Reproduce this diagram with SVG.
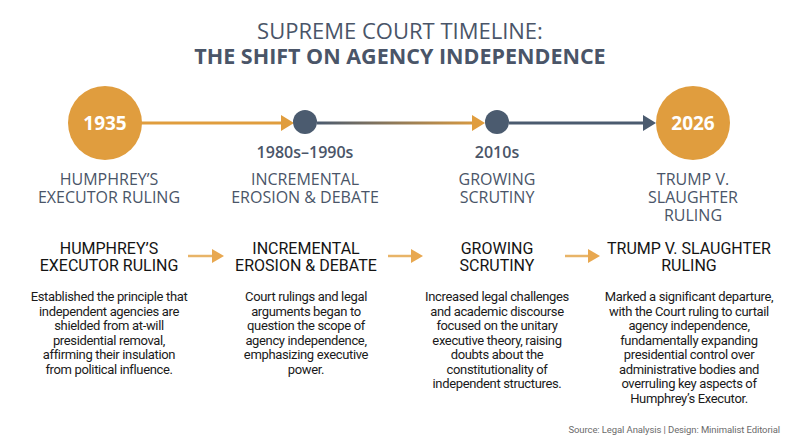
<svg xmlns="http://www.w3.org/2000/svg" width="800" height="447" viewBox="0 0 800 447">
<defs>
<style>
.t1{font-family:"Open Sans","Noto Sans",sans-serif;font-size:22px;fill:#4a5568;text-anchor:middle}
.t2{font-family:"Open Sans","Noto Sans",sans-serif;font-size:21.5px;font-weight:700;fill:#4a5568;text-anchor:middle}
.yr{font-family:"Open Sans","Noto Sans",sans-serif;font-size:19px;font-weight:700;fill:#fff;text-anchor:middle}
.era{font-family:"Open Sans","Noto Sans",sans-serif;font-size:16px;font-weight:600;fill:#4a5568;text-anchor:middle}
.cat{font-family:"Open Sans","Noto Sans",sans-serif;font-size:16px;font-weight:500;fill:#4a5568;text-anchor:middle}
.hd{font-family:Roboto,"Liberation Sans",sans-serif;font-size:16px;fill:#141414;text-anchor:middle}
.bd{font-family:Roboto,"Liberation Sans",sans-serif;font-size:13px;letter-spacing:-0.35px;fill:#1a1a1a;text-anchor:middle}
.src{font-family:Roboto,"Liberation Sans",sans-serif;font-size:9.5px;letter-spacing:-0.1px;fill:#6b6b6b;text-anchor:end}
.orange{fill:#e09d3e}
.slate{fill:#4b5b6f}
</style>
<linearGradient id="g1" x1="317" y1="0" x2="485" y2="0" gradientUnits="userSpaceOnUse">
<stop offset="0" stop-color="#4b5b6f"/>
<stop offset="1" stop-color="#e09d3e"/>
</linearGradient>
</defs>
<rect width="800" height="447" fill="#ffffff"/>
<text class="t1" x="400" y="39">SUPREME COURT TIMELINE:</text>
<text class="t2" x="400" y="64">THE SHIFT ON AGENCY INDEPENDENCE</text>

<g id="connectors">
<line x1="141" y1="123" x2="284" y2="123" stroke="#e09d3e" stroke-width="3"/>
<polygon points="281,115 294,123 281,131" fill="#e09d3e"/>
<line x1="317" y1="123" x2="474" y2="123" stroke="url(#g1)" stroke-width="3"/>
<polygon points="472,115 485,123 472,131" fill="#e09d3e"/>
<line x1="509" y1="123" x2="645" y2="123" stroke="#4b5b6f" stroke-width="3"/>
<polygon points="643,115 656,123 643,131" fill="#4b5b6f"/>
<line x1="188" y1="256" x2="214" y2="256" stroke="#e8b468" stroke-width="2.5"/>
<polygon points="212,249 224,256 212,263" fill="#e8a850"/>
<line x1="388" y1="256" x2="412" y2="256" stroke="#e8b468" stroke-width="2.5"/>
<polygon points="411,249 423,256 411,263" fill="#e8a850"/>
<line x1="565" y1="256" x2="589" y2="256" stroke="#e8b468" stroke-width="2.5"/>
<polygon points="588,249 600,256 588,263" fill="#e8a850"/>
</g>

<g id="node-1935">
<circle class="orange" cx="105" cy="123" r="37"/>
<text class="yr" x="105" y="130">1935</text>
<text class="cat" x="109" y="185">HUMPHREY’S</text>
<text class="cat" x="109" y="203">EXECUTOR RULING</text>
</g>
<g id="node-1980s">
<circle class="slate" cx="305" cy="122" r="12"/>
<text class="era" x="305" y="158">1980s–1990s</text>
<text class="cat" x="305" y="185">INCREMENTAL</text>
<text class="cat" x="305" y="203">EROSION &amp; DEBATE</text>
</g>
<g id="node-2010s">
<circle class="slate" cx="497" cy="122" r="12"/>
<text class="era" x="497" y="158">2010s</text>
<text class="cat" x="497" y="185">GROWING</text>
<text class="cat" x="497" y="203">SCRUTINY</text>
</g>
<g id="node-2026">
<circle class="orange" cx="693" cy="123" r="37"/>
<text class="yr" x="693" y="130">2026</text>
<text class="cat" x="693" y="185">TRUMP V.</text>
<text class="cat" x="693" y="203">SLAUGHTER</text>
<text class="cat" x="693" y="221">RULING</text>
</g>

<g id="card-1">
<text class="hd" x="109" y="254">HUMPHREY’S</text>
<text class="hd" x="109" y="271">EXECUTOR RULING</text>
<text class="bd" x="109" y="301">Established the principle that</text>
<text class="bd" x="109" y="315.5">independent agencies are</text>
<text class="bd" x="109" y="330">shielded from at-will</text>
<text class="bd" x="109" y="344.5">presidential removal,</text>
<text class="bd" x="109" y="359">affirming their insulation</text>
<text class="bd" x="109" y="373.5">from political influence.</text>
</g>
<g id="card-2">
<text class="hd" x="306" y="254">INCREMENTAL</text>
<text class="hd" x="306" y="271">EROSION &amp; DEBATE</text>
<text class="bd" x="306" y="301">Court rulings and legal</text>
<text class="bd" x="306" y="315.5">arguments began to</text>
<text class="bd" x="306" y="330">question the scope of</text>
<text class="bd" x="306" y="344.5">agency independence,</text>
<text class="bd" x="306" y="359">emphasizing executive</text>
<text class="bd" x="306" y="373.5">power.</text>
</g>
<g id="card-3">
<text class="hd" x="497" y="254">GROWING</text>
<text class="hd" x="497" y="271">SCRUTINY</text>
<text class="bd" x="497" y="301">Increased legal challenges</text>
<text class="bd" x="497" y="315.5">and academic discourse</text>
<text class="bd" x="497" y="330">focused on the unitary</text>
<text class="bd" x="497" y="344.5">executive theory, raising</text>
<text class="bd" x="497" y="359">doubts about the</text>
<text class="bd" x="497" y="373.5">constitutionality of</text>
<text class="bd" x="497" y="388">independent structures.</text>
</g>
<g id="card-4">
<text class="hd" x="689" y="254">TRUMP V. SLAUGHTER</text>
<text class="hd" x="689" y="271">RULING</text>
<text class="bd" x="689" y="301">Marked a significant departure,</text>
<text class="bd" x="689" y="315.5">with the Court ruling to curtail</text>
<text class="bd" x="689" y="330">agency independence,</text>
<text class="bd" x="689" y="344.5">fundamentally expanding</text>
<text class="bd" x="689" y="359">presidential control over</text>
<text class="bd" x="689" y="373.5">administrative bodies and</text>
<text class="bd" x="689" y="388">overruling key aspects of</text>
<text class="bd" x="689" y="402.5">Humphrey’s Executor.</text>
</g>
<text class="src" x="780" y="433">Source: Legal Analysis | Design: Minimalist Editorial</text>
</svg>
